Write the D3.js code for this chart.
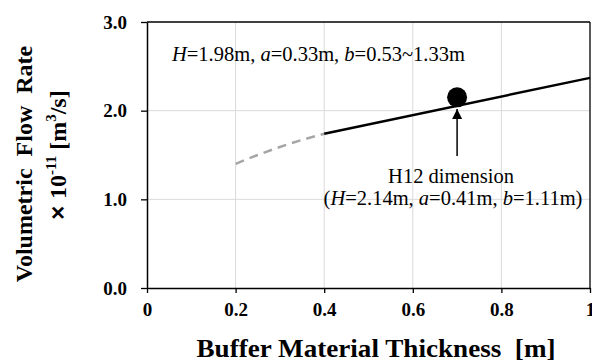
<!DOCTYPE html>
<html><head><meta charset="utf-8">
<script src="https://cdn.jsdelivr.net/npm/d3@7"></script>
<style>body{margin:0;background:#fff}svg{display:block}</style>
</head><body>
<script>
const dashedX = [0.2, 0.25, 0.3, 0.35, 0.4];
const dashedY = [1.40, 1.50, 1.59, 1.67, 1.74];
const solidX = [0.4, 1.0];
const solidY = [1.74, 2.37];
const pointX = [0.7];
const pointY = [2.15];
const xTicks = [0, 0.2, 0.4, 0.6, 0.8, 1];
const xTickLabels = ["0", "0.2", "0.4", "0.6", "0.8", "1"];
const yTicks = [0, 1, 2, 3];
const yTickLabels = ["0.0", "1.0", "2.0", "3.0"];

const W = 592, H = 361;
const m = {left: 147, right: 2, top: 22, bottom: 73};
const svg = d3.select("body").append("svg").attr("width", W).attr("height", H);
const x = d3.scaleLinear().domain([0, 1]).range([m.left, W - m.right]);
const y = d3.scaleLinear().domain([0, 3]).range([H - m.bottom, m.top]);
const serif = "'Liberation Serif','Times New Roman',serif";

// grid
svg.append("g").selectAll("line").data(xTicks.slice(1, -1)).join("line")
  .attr("x1", d => x(d)).attr("x2", d => x(d)).attr("y1", y(0)).attr("y2", y(3))
  .attr("stroke", "#d9d9d9").attr("stroke-width", 1);
svg.append("g").selectAll("line").data(yTicks.slice(1, -1)).join("line")
  .attr("x1", x(0)).attr("x2", x(1)).attr("y1", d => y(d)).attr("y2", d => y(d))
  .attr("stroke", "#d9d9d9").attr("stroke-width", 1);

// frame top/right
svg.append("line").attr("x1", x(0)).attr("x2", x(1)).attr("y1", y(3)).attr("y2", y(3)).attr("stroke", "#000").attr("stroke-width", 1.3);
svg.append("line").attr("x1", x(1)).attr("x2", x(1)).attr("y1", y(3)).attr("y2", y(0)).attr("stroke", "#000").attr("stroke-width", 1.3);

// axes
const xAxis = svg.append("g").attr("transform", `translate(0,${y(0)})`)
  .call(d3.axisBottom(x).tickValues(xTicks).tickFormat((d, i) => xTickLabels[i]).tickSize(5).tickSizeOuter(0));
const yAxis = svg.append("g").attr("transform", `translate(${x(0)},0)`)
  .call(d3.axisLeft(y).tickValues(yTicks).tickFormat((d, i) => yTickLabels[i]).tickSize(6).tickSizeOuter(0));
[xAxis, yAxis].forEach(g => {
  g.select(".domain").attr("stroke", "#000").attr("stroke-width", 1.5);
  g.selectAll(".tick line").attr("stroke", "#000").attr("stroke-width", 1.3);
  g.selectAll("text").attr("font-family", serif).attr("font-weight", "bold").attr("font-size", 19).attr("fill", "#000");
});
xAxis.selectAll("text").attr("dy", null).attr("y", 28);
yAxis.selectAll("text").attr("x", -20).attr("dy", "0.33em");

// lines
const line = d3.line().x(d => x(d[0])).y(d => y(d[1]));
svg.append("path").datum(dashedX.map((v, i) => [v, dashedY[i]]))
  .attr("d", line.curve(d3.curveMonotoneX)).attr("fill", "none")
  .attr("stroke", "#a6a6a6").attr("stroke-width", 2.5).attr("stroke-dasharray", "9,6");
svg.append("path").datum(solidX.map((v, i) => [v, solidY[i]]))
  .attr("d", d3.line().x(d => x(d[0])).y(d => y(d[1]))).attr("fill", "none")
  .attr("stroke", "#000").attr("stroke-width", 2.5);

// point
svg.append("g").selectAll("circle").data(pointX.map((v, i) => [v, pointY[i]])).join("circle")
  .attr("cx", d => x(d[0])).attr("cy", d => y(d[1])).attr("r", 10).attr("fill", "#000");

// arrow
const ax = x(pointX[0]);
svg.append("defs").append("marker").attr("id", "ah").attr("viewBox", "0 0 10 10")
  .attr("refX", 10).attr("refY", 5).attr("markerWidth", 10).attr("markerHeight", 11)
  .attr("markerUnits", "userSpaceOnUse").attr("orient", "auto")
  .append("path").attr("d", "M0,0 L10,5 L0,10 z").attr("fill", "#000");
svg.append("line").attr("x1", ax).attr("x2", ax).attr("y1", 156).attr("y2", 109)
  .attr("stroke", "#000").attr("stroke-width", 1.5).attr("marker-end", "url(#ah)");

// annotation texts
const fsA = 20.5;
const t1 = svg.append("text").attr("x", 172).attr("y", 61).attr("font-family", serif).attr("font-size", fsA).attr("fill", "#000");
t1.append("tspan").attr("font-style", "italic").text("H");
t1.append("tspan").text("=1.98m, ");
t1.append("tspan").attr("font-style", "italic").text("a");
t1.append("tspan").text("=0.33m, ");
t1.append("tspan").attr("font-style", "italic").text("b");
t1.append("tspan").text("=0.53~1.33m");

svg.append("text").attr("x", 451).attr("y", 183).attr("text-anchor", "middle")
  .attr("font-family", serif).attr("font-size", fsA).attr("fill", "#000").text("H12 dimension");
const t2 = svg.append("text").attr("x", 453).attr("y", 205).attr("text-anchor", "middle")
  .attr("font-family", serif).attr("font-size", fsA).attr("fill", "#000");
t2.append("tspan").text("(");
t2.append("tspan").attr("font-style", "italic").text("H");
t2.append("tspan").text("=2.14m, ");
t2.append("tspan").attr("font-style", "italic").text("a");
t2.append("tspan").text("=0.41m, ");
t2.append("tspan").attr("font-style", "italic").text("b");
t2.append("tspan").text("=1.11m)");

// axis titles
svg.append("text").attr("x", 376).attr("y", 357).attr("text-anchor", "middle")
  .attr("font-family", serif).attr("font-weight", "bold").attr("font-size", 25).attr("fill", "#000")
  .attr("textLength", 359).attr("lengthAdjust", "spacingAndGlyphs")
  .style("white-space", "pre").text("Buffer Material Thickness  [m]");

const yt = svg.append("g").attr("transform", "translate(0,164) rotate(-90)");
yt.append("text").attr("x", 0).attr("y", 32).attr("text-anchor", "middle")
  .attr("font-family", serif).attr("font-weight", "bold").attr("font-size", 24).attr("fill", "#000")
  .style("white-space", "pre").text("Volumetric  Flow  Rate");
const yt2 = yt.append("text").attr("x", 9).attr("y", 66).attr("text-anchor", "middle")
  .attr("font-family", serif).attr("font-weight", "bold").attr("font-size", 24).attr("fill", "#000");
yt2.append("tspan").attr("font-family", "'Liberation Sans',Arial,sans-serif").text("× ");
yt2.append("tspan").text("10");
yt2.append("tspan").attr("font-size", 15).attr("dy", -10).text("-11");
yt2.append("tspan").attr("dy", 10).text(" [m");
yt2.append("tspan").attr("font-size", 15).attr("dy", -10).text("3");
yt2.append("tspan").attr("dy", 10).text("/s]");
</script>
</body></html>
